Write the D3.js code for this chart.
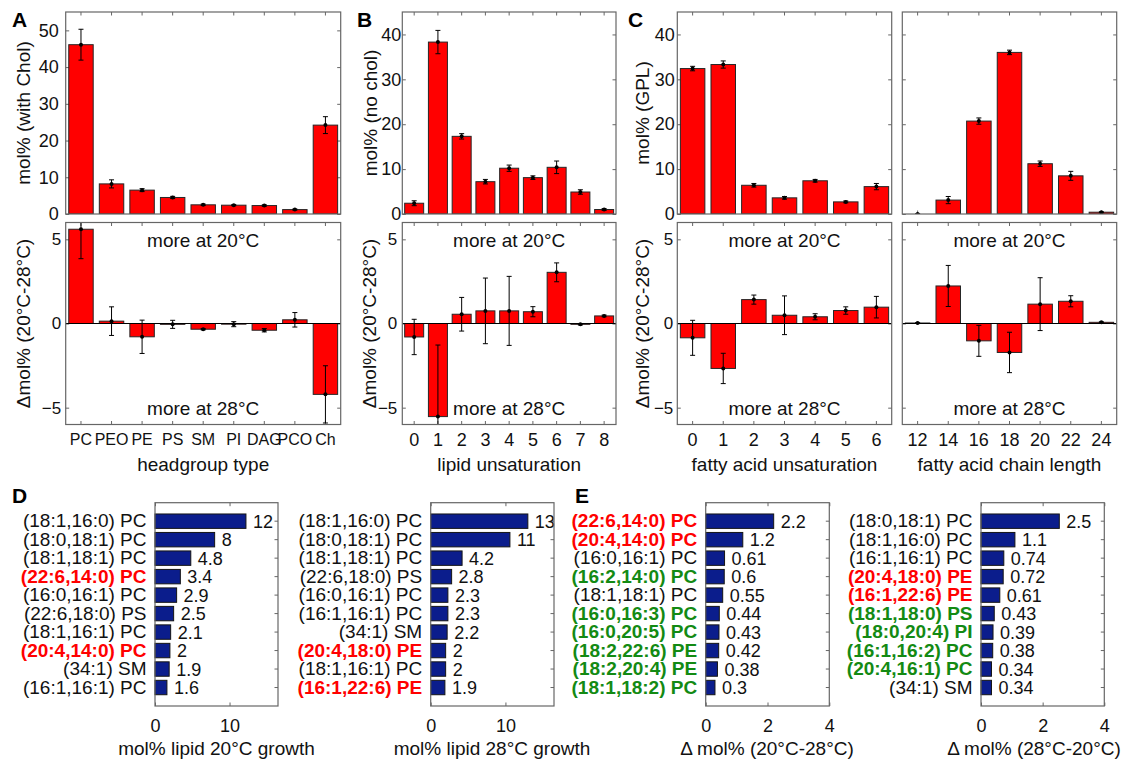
<!DOCTYPE html>
<html>
<head>
<meta charset="utf-8">
<script src="https://cdn.jsdelivr.net/npm/d3@7"></script>
<style>
  body { margin: 0; background: #fff; }
  svg { display: block; }
</style>
</head>
<body>
<svg id="fig" width="1125" height="760"></svg>
<script>
// ---- data ----
const headgroups = ["PC", "PEO", "PE", "PS", "SM", "PI", "DAG", "PCO", "Ch"];
const headgroupMol = [46.1, 8.2, 6.5, 4.5, 2.5, 2.4, 2.3, 1.2, 24.2];
const headgroupMolErr = [4.2, 1.1, 0.4, 0.3, 0.2, 0.15, 0.2, 0.15, 2.3];
const headgroupDelta = [5.6, 0.14, -0.79, -0.05, -0.34, -0.04, -0.4, 0.22, -4.21];
const headgroupDeltaErr = [1.75, 0.85, 0.99, 0.24, 0.04, 0.15, 0.1, 0.43, 1.7];

const unsatLevels = ["0", "1", "2", "3", "4", "5", "6", "7", "8"];
const unsatMol = [2.4, 38.3, 17.3, 7.2, 10.2, 8.1, 10.4, 4.9, 1.0];
const unsatMolErr = [0.55, 2.6, 0.6, 0.5, 0.7, 0.4, 1.4, 0.5, 0.2];
const unsatDelta = [-0.8, -5.53, 0.55, 0.75, 0.75, 0.7, 3.04, -0.05, 0.45];
const unsatDeltaErr = [1.05, 4.25, 1.0, 1.95, 2.05, 0.3, 0.56, 0.04, 0.05];

const faUnsatLevels = ["0", "1", "2", "3", "4", "5", "6"];
const faUnsatMol = [32.4, 33.3, 6.4, 3.6, 7.4, 2.7, 6.1];
const faUnsatMolErr = [0.5, 0.8, 0.4, 0.3, 0.3, 0.2, 0.7];
const faUnsatDelta = [-0.85, -2.67, 1.42, 0.49, 0.4, 0.77, 0.97];
const faUnsatDeltaErr = [1.04, 0.9, 0.27, 1.15, 0.18, 0.22, 0.64];

const chainLengths = ["12", "14", "16", "18", "20", "22", "24"];
const chainMol = [0.0, 3.1, 20.7, 36.0, 11.2, 8.5, 0.4];
const chainMolErr = [0.05, 0.8, 0.7, 0.5, 0.6, 1.0, 0.1];
const chainDelta = [0.03, 2.23, -1.03, -1.72, 1.15, 1.32, 0.07];
const chainDeltaErr = [0.02, 1.22, 0.92, 1.2, 1.57, 0.33, 0.03];

const molTicks50 = [0, 10, 20, 30, 40, 50];
const molTicks40 = [0, 10, 20, 30, 40];
const deltaTicks = [-5, 0, 5];

// top 10 species; colour flag: k = normal, r = red, g = green
const species20 = ["(18:1,16:0) PC", "(18:0,18:1) PC", "(18:1,18:1) PC", "(22:6,14:0) PC", "(16:0,16:1) PC",
  "(22:6,18:0) PS", "(18:1,16:1) PC", "(20:4,14:0) PC", "(34:1) SM", "(16:1,16:1) PC"];
const mol20 = [12.2, 8.0, 4.8, 3.4, 2.9, 2.5, 2.1, 2.0, 1.9, 1.6];
const flag20 = ["k", "k", "k", "r", "k", "k", "k", "r", "k", "k"];

const species28 = ["(18:1,16:0) PC", "(18:0,18:1) PC", "(18:1,18:1) PC", "(22:6,18:0) PS", "(16:0,16:1) PC",
  "(16:1,16:1) PC", "(34:1) SM", "(20:4,18:0) PE", "(18:1,16:1) PC", "(16:1,22:6) PE"];
const mol28 = [13.0, 10.6, 4.2, 2.8, 2.3, 2.3, 2.2, 2.0, 2.0, 1.9];
const flag28 = ["k", "k", "k", "k", "k", "k", "k", "r", "k", "r"];

const speciesUp20 = ["(22:6,14:0) PC", "(20:4,14:0) PC", "(16:0,16:1) PC", "(16:2,14:0) PC", "(18:1,18:1) PC",
  "(16:0,16:3) PC", "(16:0,20:5) PC", "(18:2,22:6) PE", "(18:2,20:4) PE", "(18:1,18:2) PC"];
const deltaUp20 = [2.2, 1.2, 0.61, 0.6, 0.55, 0.44, 0.43, 0.42, 0.38, 0.3];
const flagUp20 = ["r", "r", "k", "g", "k", "g", "g", "g", "g", "g"];

const speciesUp28 = ["(18:0,18:1) PC", "(18:1,16:0) PC", "(16:1,16:1) PC", "(20:4,18:0) PE", "(16:1,22:6) PE",
  "(18:1,18:0) PS", "(18:0,20:4) PI", "(16:1,16:2) PC", "(20:4,16:1) PC", "(34:1) SM"];
const deltaUp28 = [2.54, 1.1, 0.74, 0.72, 0.61, 0.43, 0.39, 0.38, 0.34, 0.34];
const flagUp28 = ["k", "k", "k", "r", "r", "g", "g", "g", "g", "k"];

// ---- drawing ----
const FONT = "'Liberation Sans', Arial, Helvetica, sans-serif";
const FRAME = "#666";
const TICK = 3.5;
const flagColor = { k: "#111", r: "#ff0000", g: "#138a13" };

const svg = d3.select("#fig");
svg.append("rect").attr("width", 1125).attr("height", 760).attr("fill", "#fff");
let clipCount = 0;

function styleAxis(sel, size) {
  sel.attr("font-family", FONT).attr("font-size", size || 18);
  sel.select(".domain").remove();
  sel.selectAll(".tick line").attr("stroke", FRAME);
  sel.selectAll(".tick text").attr("fill", "#111");
}

function addClip(l, t, w, h) {
  const id = "clip" + (clipCount++);
  svg.append("clipPath").attr("id", id).append("rect")
    .attr("x", l).attr("y", t).attr("width", w).attr("height", h);
  return id;
}

function barPanel(p) {
  const x = d3.scaleBand().domain(p.cats).range([p.left, p.right]).paddingInner(0.2).paddingOuter(0.1);
  const y = d3.scaleLinear().domain(p.yDomain).range([p.bottom, p.top]);
  const g = svg.append("g");

  const yl = d3.axisLeft(y).tickValues(p.yTicks).tickSize(-TICK).tickPadding(p.yPad || 3);
  if (!p.yTickLabels) yl.tickFormat("");
  g.append("g").attr("transform", `translate(${p.left},0)`).call(yl).call(styleAxis, p.yFont);
  g.append("g").attr("transform", `translate(${p.right},0)`)
    .call(d3.axisRight(y).tickValues(p.yTicks).tickSize(-TICK).tickFormat("")).call(styleAxis);
  g.append("g").attr("transform", `translate(0,${p.top})`)
    .call(d3.axisTop(x).tickSize(-TICK).tickFormat("")).call(styleAxis);
  const xb = d3.axisBottom(x).tickSize(-TICK).tickPadding(p.xPad || 9);
  if (!p.xTickLabels) xb.tickFormat("");
  g.append("g").attr("transform", `translate(0,${p.bottom})`).call(xb).call(styleAxis, p.xFont);

  const clip = addClip(p.left, p.top, p.right - p.left, p.bottom - p.top);
  const plot = g.append("g").attr("clip-path", `url(#${clip})`);
  const y0 = y(0);

  plot.selectAll(".bar").data(p.values).join("rect")
    .attr("class", "bar")
    .attr("x", (d, i) => x(p.cats[i]))
    .attr("y", d => Math.min(y(d), y0))
    .attr("width", x.bandwidth())
    .attr("height", d => Math.abs(y(d) - y0))
    .attr("fill", "#ff0000")
    .attr("stroke", "#262626")
    .attr("stroke-width", 1);

  if (p.yDomain[0] < 0) {
    plot.append("line").attr("x1", p.left).attr("x2", p.right)
      .attr("y1", y0).attr("y2", y0).attr("stroke", "#000").attr("stroke-width", 1.1);
  }

  const eb = plot.selectAll(".err").data(p.values).join("g").attr("class", "err")
    .attr("transform", (d, i) => `translate(${x(p.cats[i]) + x.bandwidth() / 2},0)`);
  eb.append("line").attr("x1", 0).attr("x2", 0)
    .attr("y1", (d, i) => y(d + p.errors[i])).attr("y2", (d, i) => y(d - p.errors[i]))
    .attr("stroke", "#000").attr("stroke-width", 1);
  eb.append("line").attr("x1", -2.5).attr("x2", 2.5)
    .attr("y1", (d, i) => y(d + p.errors[i])).attr("y2", (d, i) => y(d + p.errors[i]))
    .attr("stroke", "#000").attr("stroke-width", 1);
  eb.append("line").attr("x1", -2.5).attr("x2", 2.5)
    .attr("y1", (d, i) => y(d - p.errors[i])).attr("y2", (d, i) => y(d - p.errors[i]))
    .attr("stroke", "#000").attr("stroke-width", 1);
  eb.append("circle").attr("cx", 0).attr("cy", d => y(d)).attr("r", 2).attr("fill", "#000");

  g.append("rect").attr("x", p.left).attr("y", p.top)
    .attr("width", p.right - p.left).attr("height", p.bottom - p.top)
    .attr("fill", "none").attr("stroke", FRAME).attr("stroke-width", 1.2);

  const cx = (p.left + p.right) / 2;
  if (p.yDomain[0] < 0) {
    g.append("text").attr("x", cx).attr("y", p.top + 24.5).attr("text-anchor", "middle")
      .attr("font-family", FONT).attr("font-size", 19).attr("fill", "#111").text("more at 20°C");
    g.append("text").attr("x", cx).attr("y", p.bottom - 9.5).attr("text-anchor", "middle")
      .attr("font-family", FONT).attr("font-size", 19).attr("fill", "#111").text("more at 28°C");
  }
  if (p.yLabel) {
    g.append("text")
      .attr("transform", `translate(${p.yLabelX},${(p.top + p.bottom) / 2}) rotate(-90)`)
      .attr("text-anchor", "middle").attr("font-family", FONT).attr("font-size", 19)
      .attr("fill", "#111").text(p.yLabel);
  }
  if (p.xLabel) {
    g.append("text").attr("x", cx).attr("y", 471).attr("text-anchor", "middle")
      .attr("font-family", FONT).attr("font-size", 19).attr("fill", "#111").text(p.xLabel);
  }
}

function speciesPanel(p) {
  const idx = d3.range(p.names.length);
  const y = d3.scaleBand().domain(idx).range([p.top, p.bottom]).paddingInner(0.22).paddingOuter(0.61);
  const x = d3.scaleLinear().domain(p.xDomain).range([p.left, p.right]);
  const g = svg.append("g");
  const fmt = d3.format(".2~g");

  const yl = g.append("g").attr("transform", `translate(${p.left},0)`)
    .call(d3.axisLeft(y).tickSize(0).tickPadding(8.5).tickFormat(i => p.names[i]))
    .call(styleAxis, 19);
  yl.selectAll(".tick text")
    .attr("fill", i => flagColor[p.flags[i]])
    .attr("font-weight", i => p.flags[i] === "k" ? "normal" : "bold");
  g.append("g").attr("transform", `translate(${p.right},0)`)
    .call(d3.axisRight(y).tickSize(-TICK).tickFormat("")).call(styleAxis);
  g.append("g").attr("transform", `translate(0,${p.top})`)
    .call(d3.axisTop(x).tickValues(p.xTicks).tickSize(-TICK).tickFormat("")).call(styleAxis);
  g.append("g").attr("transform", `translate(0,${p.bottom})`)
    .call(d3.axisBottom(x).tickValues(p.xTicks).tickSize(-TICK).tickPadding(13).tickFormat(d3.format("d")))
    .call(styleAxis, 18);

  g.selectAll(".hbar").data(p.values).join("rect")
    .attr("class", "hbar")
    .attr("x", x(0))
    .attr("y", (d, i) => y(i))
    .attr("width", d => x(d) - x(0))
    .attr("height", y.bandwidth())
    .attr("fill", "#0b1d8c")
    .attr("stroke", "#151515")
    .attr("stroke-width", 1);

  g.selectAll(".val").data(p.values).join("text")
    .attr("class", "val")
    .attr("x", d => x(d) + 7)
    .attr("y", (d, i) => y(i) + y.bandwidth() / 2)
    .attr("dy", "0.36em")
    .attr("font-family", FONT).attr("font-size", 18).attr("fill", "#111")
    .text(d => fmt(d));

  g.append("rect").attr("x", p.left).attr("y", p.top)
    .attr("width", p.right - p.left).attr("height", p.bottom - p.top)
    .attr("fill", "none").attr("stroke", FRAME).attr("stroke-width", 1.2);

  g.append("text").attr("x", p.xLabelX).attr("y", 755).attr("text-anchor", "middle")
    .attr("font-family", FONT).attr("font-size", 19).attr("fill", "#111").text(p.xLabel);
}

const TOP = [12, 214];
const BOT = [222.5, 424.5];

// A
barPanel({ cats: headgroups, values: headgroupMol, errors: headgroupMolErr, left: 65.7, right: 340.7,
  top: TOP[0], bottom: TOP[1], yDomain: [0, 55], yTicks: molTicks50, yTickLabels: true, yPad: 7,
  yLabel: "mol% (with Chol)", yLabelX: 30 });
barPanel({ cats: headgroups, values: headgroupDelta, errors: headgroupDeltaErr, left: 65.7, right: 340.7,
  top: BOT[0], bottom: BOT[1], yDomain: [-6, 6], yTicks: deltaTicks, yTickLabels: true, yPad: 4.5, yFont: 17,
  xTickLabels: true, xFont: 16, xPad: 9.5, yLabel: "\u0394mol% (20°C-28°C)", yLabelX: 30,
  xLabel: "headgroup type" });

// B
barPanel({ cats: unsatLevels, values: unsatMol, errors: unsatMolErr, left: 402.3, right: 616,
  top: TOP[0], bottom: TOP[1], yDomain: [0, 45], yTicks: molTicks40, yTickLabels: true, yPad: 1,
  yLabel: "mol% (no chol)", yLabelX: 377 });
barPanel({ cats: unsatLevels, values: unsatDelta, errors: unsatDeltaErr, left: 402.3, right: 616,
  top: BOT[0], bottom: BOT[1], yDomain: [-6, 6], yTicks: deltaTicks, yTickLabels: true, yPad: 5, yFont: 17,
  xTickLabels: true, xFont: 18, xPad: 9, yLabel: "\u0394mol% (20°C-28°C)", yLabelX: 376,
  xLabel: "lipid unsaturation" });

// C
barPanel({ cats: faUnsatLevels, values: faUnsatMol, errors: faUnsatMolErr, left: 677.3, right: 891.7,
  top: TOP[0], bottom: TOP[1], yDomain: [0, 45], yTicks: molTicks40, yTickLabels: true, yPad: 2.5,
  yLabel: "mol% (GPL)", yLabelX: 649 });
barPanel({ cats: faUnsatLevels, values: faUnsatDelta, errors: faUnsatDeltaErr, left: 677.3, right: 891.7,
  top: BOT[0], bottom: BOT[1], yDomain: [-6, 6], yTicks: deltaTicks, yTickLabels: true, yPad: 4, yFont: 17,
  xTickLabels: true, xFont: 18, xPad: 9, yLabel: "\u0394mol% (20°C-28°C)", yLabelX: 649,
  xLabel: "fatty acid unsaturation" });
barPanel({ cats: chainLengths, values: chainMol, errors: chainMolErr, left: 902.3, right: 1116.7,
  top: TOP[0], bottom: TOP[1], yDomain: [0, 45], yTicks: molTicks40 });
barPanel({ cats: chainLengths, values: chainDelta, errors: chainDeltaErr, left: 902.3, right: 1116.7,
  top: BOT[0], bottom: BOT[1], yDomain: [-6, 6], yTicks: deltaTicks,
  xTickLabels: true, xFont: 18, xPad: 9, xLabel: "fatty acid chain length" });

// D, E
const DTOP = 502.7, DBOT = 706;
speciesPanel({ names: species20, values: mol20, flags: flag20, left: 155, right: 278,
  top: DTOP, bottom: DBOT, xDomain: [0, 16.5], xTicks: [0, 10],
  xLabel: "mol% lipid 20°C growth", xLabelX: 216.5 });
speciesPanel({ names: species28, values: mol28, flags: flag28, left: 430.7, right: 554,
  top: DTOP, bottom: DBOT, xDomain: [0, 16.5], xTicks: [0, 10],
  xLabel: "mol% lipid 28°C growth", xLabelX: 492 });
speciesPanel({ names: speciesUp20, values: deltaUp20, flags: flagUp20, left: 705.7, right: 829.3,
  top: DTOP, bottom: DBOT, xDomain: [0, 4], xTicks: [0, 2, 4],
  xLabel: "\u0394 mol% (20°C-28°C)", xLabelX: 767 });
speciesPanel({ names: speciesUp28, values: deltaUp28, flags: flagUp28, left: 981, right: 1104.3,
  top: DTOP, bottom: DBOT, xDomain: [0, 4], xTicks: [0, 2, 4],
  xLabel: "\u0394 mol% (28°C-20°C)", xLabelX: 1034 });

// panel letters
const letters = [["A", 12, 27], ["B", 357, 27], ["C", 628, 27], ["D", 12, 503], ["E", 575, 503]];
svg.selectAll(".letter").data(letters).join("text")
  .attr("class", "letter")
  .attr("x", d => d[1]).attr("y", d => d[2])
  .attr("font-family", FONT).attr("font-size", 21).attr("font-weight", "bold").attr("fill", "#000")
  .text(d => d[0]);
</script>
</body>
</html>
